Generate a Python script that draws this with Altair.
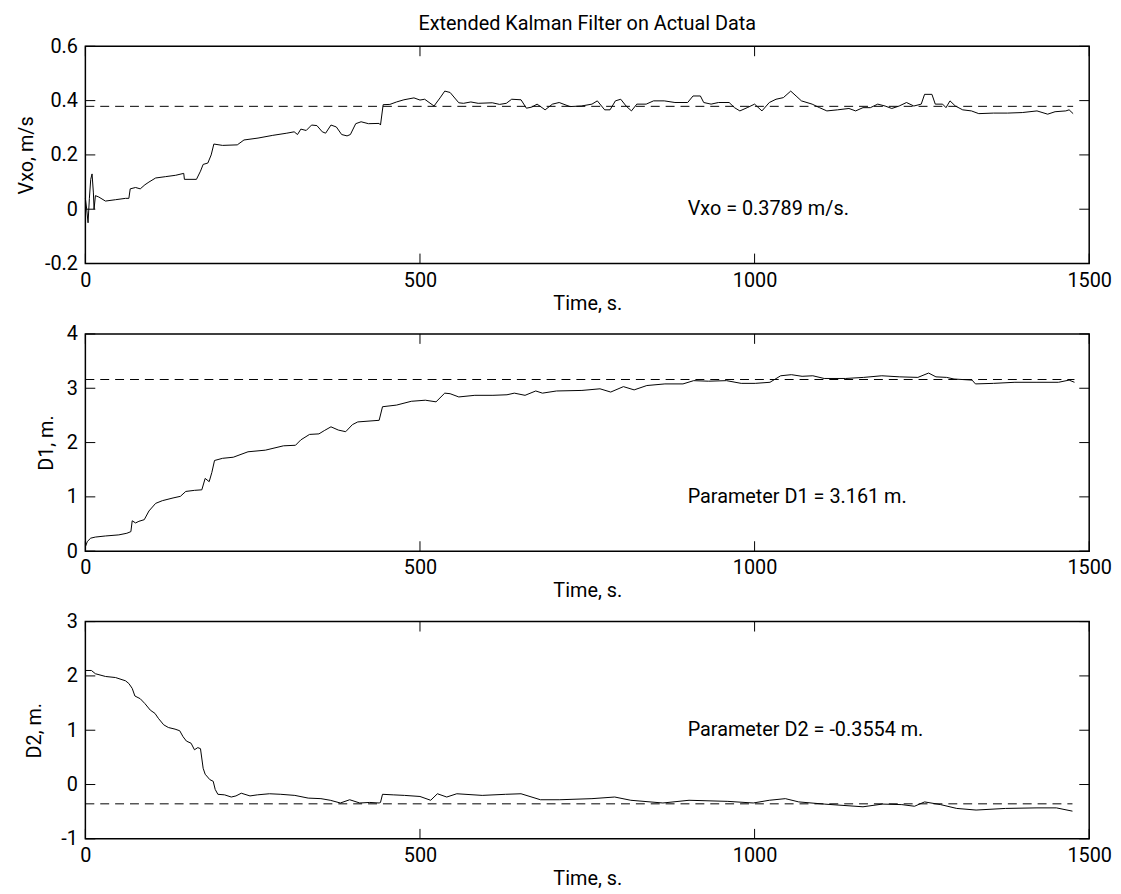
import altair as alt
import pandas as pd

FONT = "Roboto, Liberation Sans, sans-serif"
FS = 20
W, H = 1012, 219
TICK = 10

X_TICKS = [0, 500, 1000, 1500]
TITLE = "Extended Kalman Filter on Actual Data"

# ---- Panel 1: Vxo ----
VXO_T = [0, 2, 4, 6, 8, 10, 12, 13, 15, 20,
         30, 45, 60, 65, 67, 75, 82, 89, 95, 105,
         120, 135, 147, 148, 166, 172, 176, 183, 188, 192,
         205, 227, 237, 258, 280, 301, 312, 317, 322, 330,
         338, 346, 354, 359, 367, 375, 383, 391, 396, 404,
         412, 423, 439, 441, 445, 455, 465, 476, 491, 500,
         507, 521, 530, 537, 545, 558, 565, 576, 587, 608,
         619, 629, 637, 651, 659, 667, 675, 687, 698, 708,
         724, 741, 757, 765, 776, 784, 792, 800, 808, 816,
         824, 838, 849, 865, 881, 900, 908, 919, 924, 935,
         946, 962, 970, 978, 989, 1000, 1011, 1022, 1032, 1043,
         1054, 1062, 1070, 1086, 1097, 1108, 1124, 1141, 1151, 1162,
         1173, 1184, 1195, 1205, 1216, 1227, 1238, 1249, 1254, 1265,
         1270, 1281, 1286, 1292, 1300, 1311, 1324, 1335, 1357, 1378,
         1400, 1422, 1438, 1449, 1465, 1470, 1476]
VXO_V = [0.04, 0.0, -0.05, 0.04, 0.11, 0.13, 0.06, 0.0, 0.05, 0.045,
         0.03, 0.035, 0.04, 0.04, 0.075, 0.08, 0.075, 0.09, 0.10, 0.115,
         0.12, 0.125, 0.132, 0.11, 0.11, 0.14, 0.165, 0.17, 0.20, 0.24,
         0.235, 0.237, 0.255, 0.262, 0.272, 0.28, 0.285, 0.275, 0.295, 0.29,
         0.31, 0.308, 0.285, 0.28, 0.31, 0.303, 0.275, 0.27, 0.275, 0.315,
         0.322, 0.315, 0.316, 0.31, 0.385, 0.386, 0.395, 0.403, 0.41, 0.402,
         0.405, 0.38, 0.41, 0.435, 0.43, 0.392, 0.39, 0.395, 0.39, 0.392,
         0.386, 0.39, 0.405, 0.403, 0.372, 0.376, 0.387, 0.366, 0.387, 0.393,
         0.378, 0.38, 0.387, 0.399, 0.366, 0.366, 0.399, 0.405, 0.38, 0.362,
         0.387, 0.387, 0.399, 0.399, 0.393, 0.393, 0.417, 0.417, 0.393, 0.387,
         0.393, 0.393, 0.374, 0.362, 0.374, 0.387, 0.362, 0.393, 0.405, 0.411,
         0.435, 0.417, 0.399, 0.387, 0.374, 0.362, 0.366, 0.371, 0.362, 0.374,
         0.374, 0.387, 0.38, 0.371, 0.38, 0.393, 0.38, 0.387, 0.423, 0.423,
         0.387, 0.387, 0.374, 0.399, 0.38, 0.366, 0.362, 0.352, 0.354, 0.354,
         0.356, 0.362, 0.35, 0.359, 0.362, 0.366, 0.352]
VXO_REF = 0.3789
VXO_TICKS = [-0.2, 0, 0.2, 0.4, 0.6]

# ---- Panel 2: D1 ----
D1_T = [0, 3, 8, 15, 30, 50, 62, 68, 70, 75,
        80, 88, 95, 105, 115, 131, 142, 150, 163, 174,
        179, 185, 189, 193, 205, 221, 243, 269, 296, 314,
        322, 335, 349, 357, 367, 378, 389, 399, 407, 439,
        444, 465, 487, 508, 524, 537, 545, 558, 582, 609,
        630, 641, 657, 673, 683, 704, 742, 769, 785, 804,
        820, 839, 866, 893, 909, 931, 958, 980, 1001, 1023,
        1039, 1055, 1071, 1087, 1104, 1136, 1163, 1190, 1217, 1244,
        1260, 1271, 1287, 1298, 1325, 1330, 1357, 1389, 1422, 1454,
        1470, 1478]
D1_V = [0.08, 0.18, 0.24, 0.26, 0.28, 0.30, 0.33, 0.36, 0.56, 0.52,
        0.55, 0.58, 0.74, 0.88, 0.93, 0.98, 1.01, 1.10, 1.12, 1.13,
        1.34, 1.28, 1.45, 1.67, 1.71, 1.73, 1.83, 1.86, 1.94, 1.95,
        2.05, 2.15, 2.16, 2.22, 2.29, 2.23, 2.20, 2.33, 2.38, 2.41,
        2.66, 2.69, 2.76, 2.78, 2.75, 2.91, 2.90, 2.84, 2.87, 2.87,
        2.88, 2.91, 2.87, 2.95, 2.91, 2.95, 2.96, 2.99, 2.93, 3.03,
        2.97, 3.05, 3.08, 3.08, 3.14, 3.13, 3.14, 3.09, 3.09, 3.11,
        3.23, 3.25, 3.22, 3.23, 3.18, 3.18, 3.20, 3.23, 3.21, 3.20,
        3.28, 3.21, 3.20, 3.17, 3.15, 3.08, 3.09, 3.11, 3.11, 3.11,
        3.15, 3.11]
D1_REF = 3.161
D1_TICKS = [0, 1, 2, 3, 4]

# ---- Panel 3: D2 ----
D2_T = [0, 9, 15, 30, 45, 60, 65, 70, 74, 82,
        89, 97, 104, 109, 117, 124, 134, 141, 146, 151,
        158, 163, 168, 172, 176, 179, 186, 191, 194, 198,
        208, 218, 225, 233, 246, 257, 275, 292, 313, 333,
        352, 366, 381, 395, 410, 425, 439, 441, 444, 460,
        477, 500, 516, 526, 540, 555, 593, 628, 651, 680,
        709, 757, 791, 815, 863, 902, 960, 998, 1022, 1046,
        1066, 1104, 1162, 1191, 1220, 1239, 1254, 1278, 1302, 1331,
        1375, 1422, 1451, 1475]
D2_V = [2.10, 2.10, 2.04, 1.99, 1.97, 1.91, 1.86, 1.77, 1.63, 1.58,
        1.49, 1.37, 1.31, 1.22, 1.10, 1.05, 1.02, 0.99, 0.88, 0.80,
        0.76, 0.64, 0.68, 0.66, 0.30, 0.19, 0.09, 0.06, -0.09, -0.18,
        -0.19, -0.23, -0.21, -0.16, -0.21, -0.19, -0.17, -0.18, -0.20, -0.25,
        -0.26, -0.29, -0.34, -0.28, -0.34, -0.33, -0.34, -0.33, -0.18, -0.19,
        -0.20, -0.22, -0.29, -0.17, -0.23, -0.17, -0.20, -0.18, -0.17, -0.28,
        -0.28, -0.26, -0.23, -0.29, -0.34, -0.29, -0.31, -0.34, -0.29, -0.26,
        -0.32, -0.36, -0.41, -0.36, -0.37, -0.40, -0.32, -0.37, -0.44, -0.47,
        -0.44, -0.43, -0.43, -0.49]
D2_REF = -0.3554
D2_TICKS = [-1, 0, 1, 2, 3]

LABEL_EXPR = "datum.value < 0 ? '-' + format(-datum.value, '~g') : format(datum.value, '~g')"


def panel(t, v, ref, yticks, ytitle, title_x, note, note_y, title=None):
    xs = alt.Scale(domain=[0, 1500], nice=False, zero=False)
    ys = alt.Scale(domain=[yticks[0], yticks[-1]], nice=False, zero=False)
    xaxis = alt.Axis(values=X_TICKS, format="d", title="Time, s.", ticks=False,
                     domain=False, grid=False, labelPadding=7, titlePadding=3,
                     labelFlush=False, labelOverlap=False)
    yaxis = alt.Axis(values=yticks, title=ytitle, ticks=False, domain=False,
                     grid=False, labelPadding=8, labelFlush=False,
                     labelOverlap=False, labelExpr=LABEL_EXPR,
                     titleX=title_x, titleBaseline="middle")
    df = pd.DataFrame({"t": t, "v": v})
    line = alt.Chart(df).mark_line(color="black", strokeWidth=1).encode(
        x=alt.X("t:Q", scale=xs, axis=xaxis),
        y=alt.Y("v:Q", scale=ys, axis=yaxis),
        order="t:Q",
    )
    ref_df = pd.DataFrame({"t": [0], "t1": [t[-1]], "v": [ref]})
    dashed = alt.Chart(ref_df).mark_rule(color="black", strokeWidth=1,
                                         strokeDash=[9, 6]).encode(
        x=alt.X("t:Q", scale=xs, axis=xaxis), x2="t1:Q",
        y=alt.Y("v:Q", scale=ys, axis=yaxis),
    )
    note_df = pd.DataFrame({"t": [900], "v": [note_y], "label": [note]})
    text = alt.Chart(note_df).mark_text(align="left", baseline="middle",
                                        font=FONT, fontSize=FS, color="black").encode(
        x=alt.X("t:Q", scale=xs, axis=xaxis),
        y=alt.Y("v:Q", scale=ys, axis=yaxis),
        text="label:N",
    )
    xt = pd.DataFrame({"t": X_TICKS})
    yt = pd.DataFrame({"v": yticks})
    top_ticks = alt.Chart(xt).mark_rule(color="black").encode(
        x=alt.X("t:Q", scale=xs, axis=xaxis), y=alt.value(0), y2=alt.value(TICK))
    bot_ticks = alt.Chart(xt).mark_rule(color="black").encode(
        x=alt.X("t:Q", scale=xs, axis=xaxis), y=alt.value(H - TICK), y2=alt.value(H))
    left_ticks = alt.Chart(yt).mark_rule(color="black").encode(
        y=alt.Y("v:Q", scale=ys, axis=yaxis), x=alt.value(0), x2=alt.value(TICK))
    right_ticks = alt.Chart(yt).mark_rule(color="black").encode(
        y=alt.Y("v:Q", scale=ys, axis=yaxis), x=alt.value(W - TICK), x2=alt.value(W))
    ch = alt.layer(line, dashed, text, top_ticks, bot_ticks, left_ticks, right_ticks)
    props = dict(width=W, height=H)
    if title:
        props["title"] = alt.Title(title, font=FONT, fontSize=FS, fontWeight="normal",
                                   anchor="middle", frame="group", offset=2, color="black")
    return ch.properties(**props)


p1 = panel(VXO_T, VXO_V, VXO_REF, VXO_TICKS, "Vxo, m/s", -59,
           "Vxo = 0.3789 m/s.", 0.0, title=TITLE)
p2 = panel(D1_T, D1_V, D1_REF, D1_TICKS, "D1, m.", -39,
           "Parameter D1 = 3.161 m.", 1.0)
p3 = panel(D2_T, D2_V, D2_REF, D2_TICKS, "D2, m.", -51,
           "Parameter D2 = -0.3554 m.", 1.0)

chart = alt.vconcat(p1, p2, p3, spacing=71, bounds="flush").properties(
    padding={"left": 8, "top": 2, "right": 0, "bottom": 0},
    background="white",
).configure_view(
    stroke="black", strokeWidth=1.5
).configure_axis(
    labelFont=FONT, titleFont=FONT, labelFontSize=FS, titleFontSize=FS,
    labelColor="black", titleColor="black", titleFontWeight="normal",
)

chart.save("out.html", embed_options={"renderer": "svg", "actions": False})
